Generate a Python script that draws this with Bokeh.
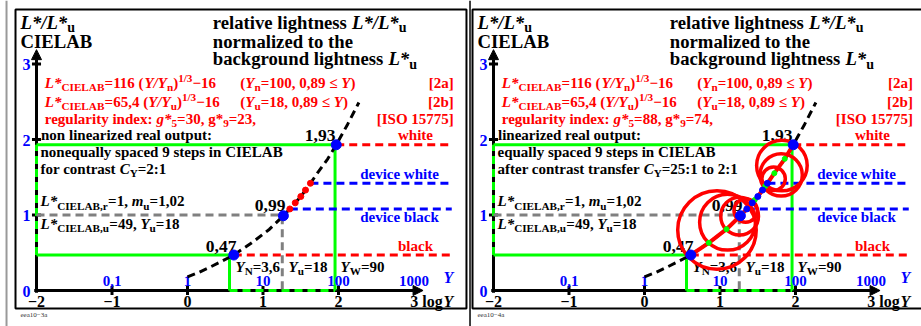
import math
from bokeh.plotting import figure
from bokeh.models import Range1d, Arrow, NormalHead
from bokeh.layouts import row
from bokeh.core.properties import value
from bokeh.embed import file_html
from bokeh.resources import INLINE

# ---------------- data ----------------
x_ticks = [-2, -1, 0, 1, 2]
x_tick_labels = ["−2", "−1", "0", "1", "2"]
y_ticks = [0, 1, 2, 3]
y_tick_labels = ["0", "1", "2", "3"]
Y_ticks = [-1, 0, 1, 2, 3]
Y_tick_labels = ["0,1", "1", "10", "100", "1000"]

Y_black, Y_bg, Y_white = 3.6, 18.0, 90.0
L_black, L_white = 0.47, 1.93
L_ref = 1.0

curve_logY = [0.0, 0.15, 0.3, 0.45, 0.613, 0.852, 1.086, 1.27, 1.355, 1.427,
              1.501, 1.563, 1.628, 1.72, 1.858, 1.97, 2.12, 2.27]
curve_L = [0.18, 0.24, 0.31, 0.385, 0.47, 0.631, 0.812, 0.99, 1.08, 1.161,
           1.245, 1.33, 1.42, 1.554, 1.744, 1.93, 2.2, 2.49]

big_logY = [0.613, 1.27, 1.97]
big_L = [0.47, 0.99, 1.93]
big_labels = ["0,47", "0,99", "1,93"]

step_logY = [0.852, 1.086, 1.29, 1.46, 1.60, 1.72, 1.858]
step_L = [0.631, 0.812, 1.01, 1.2, 1.385, 1.554, 1.744]

dev_logY = [1.355, 1.427, 1.501, 1.563, 1.628]
dev_L = [1.08, 1.161, 1.245, 1.33, 1.42]

circ_logY = [1.82, 1.81, 1.71, 0.96, 1.10, 1.26, 1.34]
circ_L = [1.655, 1.53, 1.48, 0.80, 0.905, 0.985, 1.06]
circ_r = [0.335, 0.28, 0.155, 0.52, 0.37, 0.25, 0.155]

# ---------------- styling / layout ----------------
SCALE = 75.5
H = 326
FONT = value("Liberation Serif")
RED, BLUE, GREEN, GRAY = "#ff0000", "#0000ff", "#00ff00", "#808080"
X_END = 3.5
TXT_DY = -5

BOLD = {}
for c, w in zip("abcdefghijklmnopqrstuvwxyz",
                [500, 556, 444, 556, 444, 333, 500, 556, 278, 333, 556, 278, 833,
                 556, 500, 556, 556, 444, 389, 333, 556, 500, 722, 500, 500, 444]):
    BOLD[c] = w
for c, w in zip("ABCDEFGHIJKLMNOPQRSTUVWXYZ",
                [722, 667, 722, 722, 667, 611, 778, 778, 389, 500, 778, 667, 944,
                 722, 778, 611, 778, 722, 556, 667, 722, 722, 1000, 722, 722, 667]):
    BOLD[c] = w
BOLDI = {}
for c, w in zip("abcdefghijklmnopqrstuvwxyz",
                [500, 500, 444, 500, 444, 333, 500, 556, 278, 278, 500, 278, 778,
                 556, 500, 500, 500, 389, 389, 278, 556, 444, 667, 500, 444, 389]):
    BOLDI[c] = w
for c, w in zip("ABCDEFGHIJKLMNOPQRSTUVWXYZ",
                [667, 667, 667, 722, 667, 667, 722, 778, 389, 500, 667, 611, 889,
                 722, 722, 611, 722, 667, 556, 611, 722, 667, 889, 667, 611, 611]):
    BOLDI[c] = w
PUNCT = {" ": 250, ",": 250, ".": 250, ":": 333, "(": 333, ")": 333, "[": 333,
         "]": 333, "*": 500, "/": 278, "=": 570, "−": 570, "-": 333, "≤": 549}
for d in "0123456789":
    PUNCT[d] = 500
BOLD.update(PUNCT)
BOLDI.update(PUNCT)
SUB = 0.75


def tw(s, italic):
    tab = BOLDI if italic else BOLD
    return sum(tab.get(c, 500) for c in s) / 1000.0


def rich(p, x, y, runs, size, color, align="left", dy=0.0):
    info = []
    for t, st in runs:
        it = st in ("bi", "subi")
        sc = SUB if st in ("sub", "subi", "sup") else 1.0
        info.append((t, st, it, sc, tw(t, it) * size * sc))
    total = sum(i[4] for i in info)
    xo = {"left": 0.0, "center": -total / 2, "right": -total}[align]
    for t, st, it, sc, w in info:
        yo = dy + TXT_DY
        if st in ("sub", "subi"):
            yo += 0.28 * size
        elif st == "sup":
            yo -= 0.33 * size
        p.text(x=[x], y=[y], text=[t], x_offset=xo, y_offset=yo,
               text_font=FONT, text_font_style="bold italic" if it else "bold",
               text_font_size=f"{size * sc:.1f}px", text_color=color,
               text_align="left", text_baseline="alphabetic")
        xo += w


def make_panel(width, x0, linearized, t):
    p = figure(width=width, height=H,
               x_range=Range1d(x0, x0 + width / SCALE),
               y_range=Range1d(-36 / SCALE, -36 / SCALE + H / SCALE),
               output_backend="svg", toolbar_location=None,
               x_axis_type=None, y_axis_type=None, min_border=0,
               outline_line_color=None, background_fill_color="white",
               border_fill_color="white")
    xN, xu, xW = math.log10(Y_black), math.log10(Y_bg), math.log10(Y_white)

    # frame
    p.quad(left=-2.278, right=3.695, bottom=-0.24, top=3.722,
           fill_color=None, line_color="black", line_width=2)

    # axes (arrows)
    head = dict(size=10, fill_color="black", line_color="black", line_width=1)
    p.add_layout(Arrow(end=NormalHead(**head), x_start=-2.03, y_start=0,
                       x_end=3.12, y_end=0, line_width=3, line_color="black",
                       level="underlay"))
    p.add_layout(Arrow(end=NormalHead(**head), x_start=-2, y_start=-0.03,
                       x_end=-2, y_end=3.19, line_width=3, line_color="black",
                       level="underlay"))
    p.segment(x0=x_ticks[1:], y0=[-0.06] * 4, x1=x_ticks[1:], y1=[0.06] * 4,
              line_color="black", line_width=3)
    p.segment(x0=[-2.06] * 3, y0=y_ticks[1:], x1=[-1.94] * 3, y1=y_ticks[1:],
              line_color="black", line_width=3)

    # green contrast frame
    p.line([-2, xW, xW], [L_white, L_white, 0], line_color=GREEN, line_width=3)
    p.line([-2, xN, xN], [L_black, L_black, 0], line_color=GREEN, line_width=3)
    p.line([-2, -2], [L_black, L_white], line_color=GREEN, line_width=3, line_dash="8 5")
    p.line([xN, xW], [0, 0], line_color=GREEN, line_width=3, line_dash="8 5")

    # grey background lines
    p.line([-2, xu, xu], [L_ref, L_ref, 0], line_color=GRAY, line_width=3,
           line_dash="8 5")

    # red / blue horizontal dashed
    p.segment(x0=[big_logY[2], big_logY[0]], y0=[big_L[2], big_L[0]],
              x1=[X_END, X_END], y1=[big_L[2], big_L[0]],
              line_color=RED, line_width=3, line_dash="8 5")
    p.segment(x0=[dev_logY[-1], dev_logY[0]], y0=[dev_L[-1], dev_L[0]],
              x1=[X_END, X_END], y1=[dev_L[-1], dev_L[0]],
              line_color=BLUE, line_width=3, line_dash="8 5")

    # ---- texts ----
    S_BIG, S_MID, S = 18.7, 17.5, 15
    rich(p, -2.212, 3.483, [("L*/L*", "bi"), ("u", "sub")], S_BIG, "black")
    rich(p, -2.212, 3.236, [("CIELAB", "b")], S_BIG, "black")
    rich(p, 0.335, 3.487, [("relative lightness ", "b"), ("L*/L*", "bi"), ("u", "sub")], S_BIG, "black")
    rich(p, 0.335, 3.236, [("normalized to the", "b")], S_BIG, "black")
    rich(p, 0.335, 3.003, [("background lightness ", "b"), ("L*", "bi"), ("u", "sub")], S_BIG, "black")

    xr = t["xr"]
    rich(p, -1.89, 2.685, [("L*", "bi"), ("CIELAB", "sub"), ("=116 (", "b"), ("Y/Y", "bi"),
                           ("n", "sub"), (")", "b"), ("1/3", "sup"), ("−16", "b")], S, RED)
    rich(p, 0.70, 2.685, [("(", "b"), ("Y", "bi"), ("n", "sub"), ("=100, 0,89 ≤ ", "b"),
                          ("Y", "bi"), (")", "b")], S, RED)
    rich(p, xr, 2.685, [("[2a]", "b")], S, RED, align="right")
    rich(p, -1.89, 2.437, [("L*", "bi"), ("CIELAB", "sub"), ("=65,4 (", "b"), ("Y/Y", "bi"),
                           ("u", "sub"), (")", "b"), ("1/3", "sup"), ("−16", "b")], S, RED)
    rich(p, 0.70, 2.437, [("(", "b"), ("Y", "bi"), ("u", "sub"), ("=18, 0,89 ≤ ", "b"),
                          ("Y", "bi"), (")", "b")], S, RED)
    rich(p, xr, 2.437, [("[2b]", "b")], S, RED, align="right")
    rich(p, -1.89, 2.199, [("regularity index: ", "b"), ("g*", "bi"), ("5", "sub"),
                           (t["g5"], "b"), ("9", "sub"), (t["g9"], "b")], S, RED)
    rich(p, xr, 2.199, [("[ISO 15775]", "b")], S, RED, align="right")

    rich(p, -1.94, 2.0, [(t["out"], "b")], S, "black")
    rich(p, -1.947, 1.762, [(t["steps"], "b")], S, "black")
    rich(p, -1.947, 1.546, [(t["contrast"], "b"), ("C", "bi"), ("Y", "sub"), (t["ratio"], "b")], S, "black")
    rich(p, -1.947, 1.113, [("L*", "bi"), ("CIELAB,r", "sub"), ("=1, ", "b"), ("m", "bi"),
                            ("u", "sub"), ("=1,02", "b")], S, "black")
    rich(p, -1.947, 0.817, [("L*", "bi"), ("CIELAB,u", "sub"), ("=49, ", "b"), ("Y", "bi"),
                            ("u", "sub"), ("=18", "b")], S, "black")

    rich(p, 3.02, 2.0, [("white", "b")], S, RED, align="center")
    rich(p, 3.02, 0.52, [("black", "b")], S, RED, align="center")
    rich(p, 2.808, 1.479, [("device white", "b")], S, BLUE, align="center")
    rich(p, 2.808, 0.905, [("device black", "b")], S, BLUE, align="center")

    rich(p, 1.96, 1.987, [(big_labels[2], "b")], S_MID, "black", align="right")
    rich(p, 1.298, 1.06, [(big_labels[1], "b")], S_MID, "black", align="right")
    rich(p, 0.649, 0.52, [(big_labels[0], "b")], S_MID, "black", align="right")

    rich(p, 0.636, 0.242, [("Y", "bi"), ("N", "sub"), ("=3,6", "b")], S, "black")
    rich(p, 1.338, 0.242, [("Y", "bi"), ("u", "sub"), ("=18", "b")], S, "black")
    rich(p, 2.026, 0.242, [("Y", "bi"), ("W", "sub"), ("=90", "b")], S, "black")

    # axis labels
    for xv, lab in zip(Y_ticks, Y_tick_labels):
        rich(p, xv, 0, [(lab, "b")], S, BLUE, align="center", dy=-5)
    rich(p, 3.39, 0.102, [("Y", "bi")], 16, BLUE)
    for xv, lab in zip(x_ticks, x_tick_labels):
        rich(p, xv, 0, [(lab, "b")], 16, "black", align="center", dy=16)
    rich(p, 2.95, 0, [("3 log", "b")], 16, "black", dy=16)
    rich(p, 3.39, 0, [("Y", "bi")], 16, "black", dy=16)
    for yv, lab in zip(y_ticks, y_tick_labels):
        rich(p, -2.079, yv, [(lab, "b")], 16, BLUE, align="right", dy=5.5)
    p.text(x=[-2.212], y=[-0.385], text=[t["code"]], text_font=FONT,
           text_font_size="7px", text_color="#333333", text_baseline="alphabetic",
           y_offset=TXT_DY)

    # ---- curve & markers ----
    p.line(curve_logY, curve_L, line_color="black", line_width=3, line_dash="8 5")
    if not linearized:
        p.scatter(dev_logY, dev_L, size=6, color=RED)
    else:
        i0 = curve_logY.index(big_logY[0])
        i1 = curve_logY.index(big_logY[2])
        p.line(curve_logY[i0:i1 + 1], curve_L[i0:i1 + 1], line_color=RED, line_width=4)
        p.circle(x=circ_logY, y=circ_L, radius=circ_r, fill_color=None,
                 line_color=RED, line_width=3.5)
        p.scatter(step_logY, step_L, size=5, color=GREEN)
        p.scatter(dev_logY, dev_L, size=6, color=BLUE)
    p.scatter(big_logY, big_L, size=10, color=BLUE)
    return p


left_t = dict(xr=3.527, g5="=30, g*", g9="=23,", out="non linearized real output:",
              steps="nonequally spaced 9 steps in CIELAB", contrast="for contrast ",
              ratio="=2:1", code="eea10−3a")
right_t = dict(xr=3.555, g5="=88, g*", g9="=74,", out="linearized real output:",
               steps="equally spaced 9 steps in CIELAB",
               contrast="after contrast transfer ", ratio="=25:1 to 2:1", code="eea10−4a")

p1 = make_panel(468, -2 - 36 / SCALE, False, left_t)
p1.line([-2.397, -2.397], [-0.47, 3.84], line_color="#999999", line_width=2)
p2 = make_panel(453, -2 - 25 / SCALE, True, right_t)
p2.line([-2.311, -2.311], [-0.47, 3.84], line_color="black", line_width=1.5)

layout = row(p1, p2)
open("out.html", "w").write(file_html(layout, INLINE))
